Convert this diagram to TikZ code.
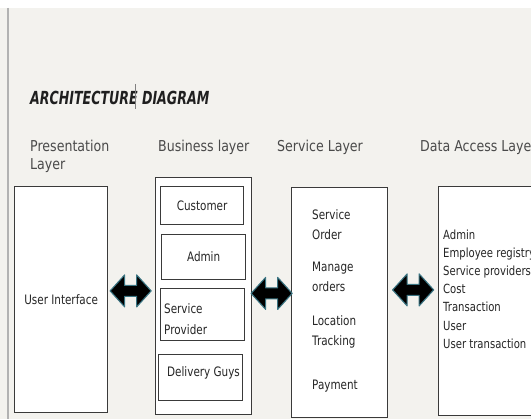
\documentclass[tikz,border=0pt]{standalone}
\usepackage{fontspec}
\usetikzlibrary{calc}
\newfontfamily\condf[FakeStretch=0.8]{DejaVu Sans}
\newfontfamily\headf[FakeStretch=0.84]{DejaVu Sans}
\newfontfamily\titlef[FakeStretch=0.7]{DejaVu Sans}
\definecolor{bgc}{HTML}{F3F2EE}
\definecolor{edgec}{HTML}{3A3A3A}
\definecolor{headc}{HTML}{4A4A4A}
\definecolor{txtc}{HTML}{252525}
\definecolor{glowc}{HTML}{3A7482}
\begin{document}
\begin{tikzpicture}[x=1pt,y=-1pt,
  box/.style={draw=edgec,fill=white,line width=1.3pt,inner sep=0pt,anchor=north west},
  head/.style={font=\headf\fontsize{15}{18}\selectfont,text=headc,anchor=west,inner sep=0pt,text height=10.9pt,text depth=0pt},
  ln/.style={font=\condf\fontsize{13}{16}\selectfont,text=txtc,anchor=west,inner sep=0pt,text height=9.5pt,text depth=0pt},
  dl/.style={font=\condf\fontsize{12.6}{15}\selectfont,text=txtc,anchor=west,inner sep=0pt,text height=9.2pt,text depth=0pt},
  dblarr/.pic={\draw[fill=black,draw=glowc,line width=1.1pt,line join=round]
     (-20.5,0) -- (-6,-16) -- (-6,-5.5) -- (6,-5.5) -- (6,-16) -- (20.5,0)
     -- (6,16) -- (6,5.5) -- (-6,5.5) -- (-6,16) -- cycle;}]
\useasboundingbox (0,0) rectangle (531,419);
\clip (0,0) rectangle (531,419);
\fill[bgc] (0,0) rectangle (531,419);
\fill[white] (0,0) rectangle (531,8);
\draw[gray!60,line width=1.5pt] (8,8) -- (8,419);
% title
\node[anchor=base west,inner sep=0pt,text=black!88,font=\titlef\bfseries\itshape\fontsize{18}{20}\selectfont] (title) at (30,105) {ARCHITECTURE DIAGRAM};
\draw[gray,line width=0.6pt] (135,84) -- (135,109);
% headers
\node[head] (h1) at (30,146) {Presentation};
\node[head] (h1b) at (30,164) {Layer};
\node[head] (h2) at (158,146) {Business layer};
\node[head] (h3) at (277,146) {Service Layer};
\node[head] (h4) at (420,146) {Data Access Layer};
% presentation
\node[box,minimum width=93pt,minimum height=226pt] (ui) at (14,186) {};
\node[ln,anchor=center] (uit) at (ui.center) {User Interface};
% business
\node[box,minimum width=96pt,minimum height=237pt] (biz) at (155,177) {};
\node[box,minimum width=83pt,minimum height=38pt] (cu) at (160,186) {};
\node[ln,anchor=center] (cut) at (cu.center) {Customer};
\node[box,minimum width=84pt,minimum height=45pt] (ad) at (161,234) {};
\node[ln,anchor=center] (adt) at (ad.center) {Admin};
\node[box,minimum width=84pt,minimum height=52pt] (sp) at (160,288) {};
\node[ln] (spt1) at (164,309) {Service};
\node[ln] (spt2) at (164,330) {Provider};
\node[box,minimum width=84pt,minimum height=46pt] (dg) at (158,354) {};
\node[ln] (dgt) at (167,372) {Delivery Guys};
% service
\node[box,minimum width=96pt,minimum height=230pt] (svc) at (291,187) {};
\foreach \t/\y [count=\i] in {Service/215,Order/235,Manage/267,orders/287,Location/321,Tracking/341,Payment/385}
  \node[ln] (s\i) at (312,\y) {\t};
% data access
\node[box,minimum width=130pt,minimum height=229pt] (dat) at (438,186) {};
\foreach \t/\y [count=\i] in {Admin/235,Employee registry/253,Service providers/271,Cost/289,Transaction/307,User/326,User transaction/344}
  \node[dl] (d\i) at (443,\y) {\t};
% arrows
\coordinate (a1) at ($(ui.east)!0.5!(biz.west)+(-1,-7)$);
\coordinate (a2) at ($(biz.east)!0.5!(svc.west)+(0,-6)$);
\coordinate (a3) at ($(svc.east)!0.5!(dat.west)+(0,-12)$);
\pic at (a1) {dblarr};
\pic at (a2) {dblarr};
\pic at (a3) {dblarr};
\end{tikzpicture}
\end{document}
